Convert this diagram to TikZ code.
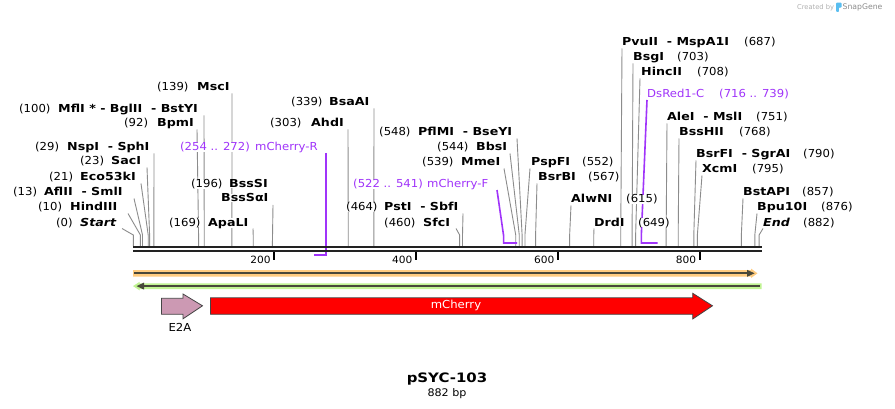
\documentclass[tikz,border=0pt]{standalone}
\usepackage{fontspec}
\setmainfont{DejaVu Sans}
\newfontfamily\numfont[FakeStretch=1.06]{DejaVu Sans}
\newfontfamily\enzfont[FakeStretch=1.15]{DejaVu Sans}
\usetikzlibrary{arrows.meta}
\pgfdeclarelayer{paper}
\pgfdeclarelayer{lines}
\pgfsetlayers{paper,lines,main}
\definecolor{leadcol}{RGB}{140,140,140}
\definecolor{bbcol}{RGB}{34,34,34}
\definecolor{purp}{RGB}{160,52,250}
\definecolor{orband}{RGB}{255,204,128}
\definecolor{grband}{RGB}{192,243,146}
\definecolor{darkln}{RGB}{72,72,58}
\definecolor{e2acol}{RGB}{204,153,179}
\definecolor{featln}{RGB}{70,70,70}
\definecolor{crgray}{RGB}{176,176,176}
\definecolor{sggray}{RGB}{140,140,140}
\definecolor{logoblue}{RGB}{90,190,240}
\tikzset{
  numst/.style={font=\numfont\fontsize{11}{13}\selectfont, inner sep=0pt, text=black, fill=white},
  enzst/.style={font=\enzfont\bfseries\fontsize{11}{13}\selectfont, inner sep=0pt, text=black, fill=white},
  purst/.style={font=\numfont\fontsize{11}{13}\selectfont, inner sep=0pt, text=purp, fill=white},
  leader/.style={draw=leadcol, line width=0.9pt},
  primer/.style={draw=purp, line width=1.6pt},
  bbline/.style={draw=bbcol, line width=2.6pt},
  tickln/.style={draw=black, line width=1.7pt},
  ticklab/.style={font=\numfont\fontsize{10}{12}\selectfont, inner sep=0pt, anchor=base east},
  featbox/.style={draw=featln, line width=0.8pt}
}
% id, numx, namex, cy, num, name, startx, bp
\newcommand{\EnzLab}[8]{%
  \node[numst,anchor=base west] (n#1) at (#2,#4+4) {(#5)};
  \node[enzst,anchor=base west] (e#1) at (#3,#4+4) {#6};
  \coordinate (a#1) at (#7,#4+6.5);
  \coordinate (b#1) at ({bx(#8)},235);
  \coordinate (c#1) at ({bx(#8)},246);
  \begin{pgfonlayer}{lines}
  \draw[leader] (a#1) -- (b#1) -- (c#1);
  \end{pgfonlayer}
}
\begin{document}
\begin{tikzpicture}[x=1pt,y=-1pt,declare function={bx(\p)=133.3+0.7095*\p;}]
\useasboundingbox (0,0) rectangle (895,409);
\begin{pgfonlayer}{paper}
\fill[white] (0,0) rectangle (895,409);
\end{pgfonlayer}

% ---- enzyme labels (left side style: number then name)
\EnzLab{L1}{157}{197}{87}{139}{MscI}{232}{139}
\EnzLab{L2}{19}{58}{109}{100}{MflI * - BglII\ \ - BstYI}{204}{100}
\EnzLab{L3}{124}{157}{123}{92}{BpmI}{197}{92}
\EnzLab{L4}{35}{67}{147}{29}{NspI\ \ - SphI}{154}{29}
\EnzLab{L5}{80}{111}{161}{23}{SacI}{147}{23}
\EnzLab{L6}{49}{80}{177}{21}{Eco53kI}{141}{21}
\EnzLab{L7}{13}{44}{192}{13}{AflII\ \ - SmlI}{134}{13}
\EnzLab{L8}{38}{70}{207}{10}{HindIII}{128}{10}
\EnzLab{L9}{56}{80}{222}{0}{\itshape Start}{122}{0}
\EnzLab{L11}{169}{208}{222}{169}{ApaLI}{253}{169}
\EnzLab{L12}{291}{329}{102}{339}{BsaAI}{374}{339}
\EnzLab{L13}{270}{311}{123}{303}{AhdI}{348}{303}
\EnzLab{L14}{379}{418}{132}{548}{PflMI\ \ - BseYI}{517}{548}
\EnzLab{L15}{437}{476}{147}{544}{BbsI}{510}{544}
\EnzLab{L16}{422}{461}{162}{539}{MmeI}{504}{539}
\EnzLab{L17}{346}{384}{207}{464}{PstI\ \ - SbfI}{463}{464}
\EnzLab{L18}{384}{423}{222}{460}{SfcI}{456}{460}
% BssSI / BssSalphaI (two lines)
\node[numst,anchor=base west] (nL10) at (191,188) {(196)};
\node[enzst,anchor=base west] (eL10) at (229,188) {BssSI};
\node[enzst,anchor=base west] (fL10) at (221,202) {BssSαI};
\coordinate (aL10) at (273,205);
\coordinate (cL10) at ({bx(196)},246);
\begin{pgfonlayer}{lines}
\draw[leader] (aL10) -- (cL10);
\end{pgfonlayer}

% ---- enzyme labels (right side style: name then number)
\EnzLab{R21}{582}{531}{162}{552}{PspFI}{530}{552}
\EnzLab{R22}{588}{538}{177}{567}{BsrBI}{537}{567}
\EnzLab{R23}{626}{571}{199}{615}{AlwNI}{571}{615}
\EnzLab{R24}{638}{594}{222}{649}{DrdI}{594}{649}
\EnzLab{R25}{744}{622}{42}{687}{PvuII\ \ - MspA1I}{622}{687}
\EnzLab{R26}{677}{633}{57}{703}{BsgI}{633}{703}
\EnzLab{R27}{697}{641}{72}{708}{HincII}{640}{708}
\EnzLab{R29}{756}{667}{117}{751}{AleI\ \ - MslI}{667}{751}
\EnzLab{R30}{739}{679}{132}{768}{BssHII}{679}{768}
\EnzLab{R31}{803}{696}{154}{790}{BsrFI\ \ - SgrAI}{696}{790}
\EnzLab{R32}{752}{702}{169}{795}{XcmI}{702}{795}
\EnzLab{R33}{802}{743}{192}{857}{BstAPI}{743}{857}
\EnzLab{R34}{821}{757}{207}{876}{Bpu10I}{757}{876}
\EnzLab{R35}{803}{763}{222}{882}{\itshape End}{763}{882}

% ---- primers
\node[purst,anchor=base west] (pr1n) at (180,151) {(254 .. 272)};
\node[purst,anchor=base west] (pr1l) at (255,151) {mCherry-R};
\coordinate (pr1a) at ({bx(272)},153);
\coordinate (pr1b) at ({bx(272)},255);
\coordinate (pr1c) at ({bx(254)},255);

\node[purst,anchor=base west] (pr2n) at (353,188) {(522 .. 541)};
\node[purst,anchor=base west] (pr2l) at (427,188) {mCherry-F};
\coordinate (pr2a) at (497,190);
\coordinate (pr2b) at ({bx(522)},236);
\coordinate (pr2c) at ({bx(522)},243);
\coordinate (pr2d) at ({bx(541)},243);

\node[purst,anchor=base west] (pr3l) at (647,98) {DsRed1-C};
\node[purst,anchor=base west] (pr3n) at (719,98) {(716 .. 739)};
\coordinate (pr3a) at (647,100);
\coordinate (pr3b) at ({bx(716)},236);
\coordinate (pr3c) at ({bx(716)},243);
\coordinate (pr3d) at ({bx(739)},243);
\begin{pgfonlayer}{lines}
\draw[primer] (pr1a) -- (pr1b) -- (pr1c);
\draw[primer] (pr2a) -- (pr2b) -- (pr2c) -- (pr2d);
\draw[primer] (pr3a) -- (pr3b) -- (pr3c) -- (pr3d);
\end{pgfonlayer}

% ---- backbone
\coordinate (bbL1) at (133,246.8);
\coordinate (bbR1) at (761.5,246.8);
\coordinate (bbL2) at (133,250.8);
\coordinate (bbR2) at (761.5,250.8);
\draw[bbline] (bbL1) -- (bbR1);
\draw[bbline] (bbL2) -- (bbR2);
\foreach \t in {200,400,600,800}{
  \coordinate (tk\t) at ({bx(\t)-1},251.5);
  \coordinate (tb\t) at ({bx(\t)-1},259.5);
  \draw[tickln] (tk\t) -- (tb\t);
  \node[ticklab] (tl\t) at ({bx(\t)-4.5},263.3) {\t};
}

% ---- feature arrows (orange forward, green reverse)
\fill[orband] (133,270) -- (751,270) -- (751,268.6) -- (757.5,273.3) -- (751,278) -- (751,276.6) -- (133,276.6) -- cycle;
\fill[darkln] (133.5,272.3) rectangle (748,274.3);
\fill[darkln] (747,269.8) -- (754.5,273.3) -- (747,276.8) -- cycle;

\fill[grband] (761.7,283.3) -- (139.5,283.3) -- (139.5,281.9) -- (133,286.1) -- (139.5,290.3) -- (139.5,289) -- (761.7,289) -- cycle;
\fill[darkln] (760,285.1) rectangle (143,287.1);
\fill[darkln] (144,282.6) -- (136.5,286.1) -- (144,289.6) -- cycle;

% ---- E2A and mCherry
\draw[featbox, fill=e2acol] (161.5,298.3) -- (183,298.3) -- (183,294) -- (202.5,305.8) -- (183,318.8) -- (183,314.3) -- (161.5,314.3) -- cycle;
\node[numst, anchor=base] (e2a) at (180,331.5) {E2A};
\draw[featbox, fill=red] (210.5,297.8) -- (692.7,297.8) -- (692.7,293.3) -- (712.5,305.8) -- (692.7,319) -- (692.7,314.3) -- (210.5,314.3) -- cycle;
\node[font=\numfont\fontsize{11}{13}\selectfont, text=white, inner sep=0pt] (mch) at (456,305.8) {mCherry};

% ---- title
\node[font=\enzfont\bfseries\fontsize{13}{15}\selectfont, inner sep=0pt, anchor=base] (title) at (447,382.7) {pSYC-103};
\node[font=\numfont\fontsize{10.5}{12}\selectfont, inner sep=0pt, anchor=base] (len) at (447,396.7) {882 bp};

% ---- watermark
\node[font=\fontsize{6.7}{8}\selectfont, text=crgray, inner sep=0pt, anchor=west] (cr) at (797,7.2) {Created by};
\fill[logoblue, rounded corners=0.8pt] (836.2,2.6) -- (841.6,2.6) -- (841.6,7.6) -- (838.8,7.6) -- (838.8,12) -- (836.2,12) -- cycle;
\node[font=\fontsize{7.7}{9}\selectfont, text=sggray, inner sep=0pt, anchor=west] (sg) at (842.5,7.2) {SnapGene};
\end{tikzpicture}
\end{document}
